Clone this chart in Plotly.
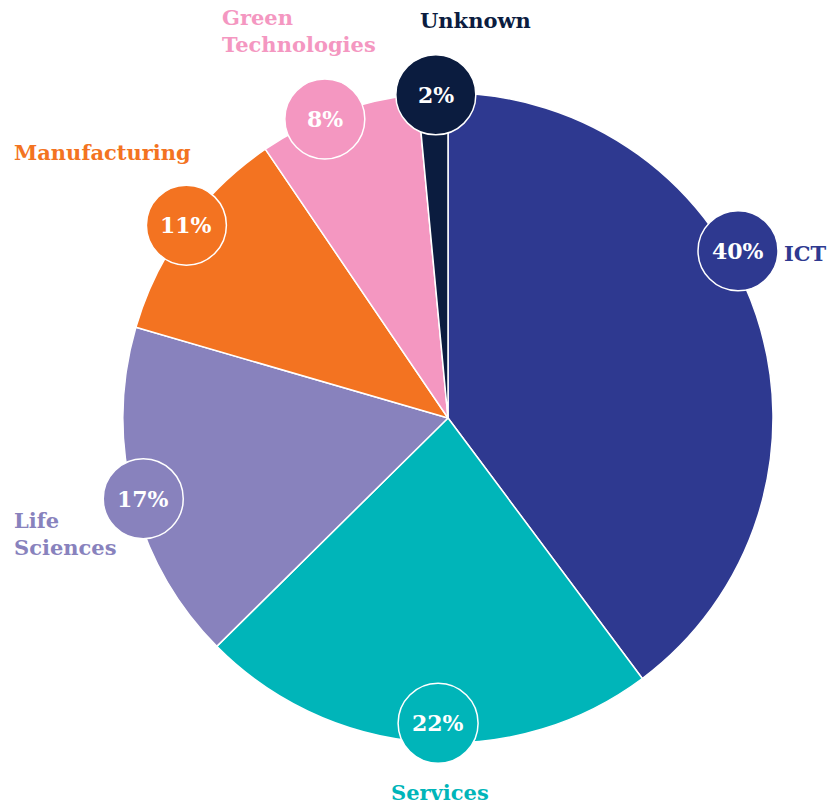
import math
import plotly.graph_objects as go

# ---- data ----
categories = ["ICT", "Services", "Life Sciences", "Manufacturing", "Green Technologies", "Unknown"]
display_names = ["ICT", "Services", "Life<br>Sciences", "Manufacturing", "Green<br>Technologies", "Unknown"]
values = [39.8, 22.8, 16.9, 11.0, 8.0, 1.5]          # slice sizes
pct_labels = ["40%", "22%", "17%", "11%", "8%", "2%"]  # printed labels

# ---- styles / layout ----
colors = ["#2E3990", "#00B5B9", "#8882BD", "#F37321", "#F497C1", "#0B1C3F"]
W, H = 840, 806
OFF = 8  # page body margin of the viewer
CX, CY, R = 448, 418, 325
BADGE_R = 40
FONT = "DejaVu Serif"
# position of the % badge within its slice (fraction of slice span, radius factor)
badge_frac = [0.419, 0.47, 0.49, 0.51, 0.41, 0.6]
badge_rad = [1.03, 0.94, 0.97, 1.0, 0.995, 0.995]
# category label anchors (pixels in the viewport): x, y, xanchor
label_pos = [(782, 253, "left"), (440, 792, "center"), (12, 534, "left"),
             (12, 152, "left"), (220, 31, "left"), (418, 20, "left")]


def px(x):
    return (x - OFF) / W


def py(y):
    return 1 - (y - OFF) / H


fig = go.Figure()
fig.add_trace(go.Pie(
    labels=categories, values=values, sort=False, direction="clockwise", rotation=0,
    marker=dict(colors=colors, line=dict(color="white", width=1.5)),
    textinfo="none", hoverinfo="label", showlegend=False,
    domain=dict(x=[px(CX - R), px(CX + R)], y=[py(CY + R), py(CY - R)]),
))

shapes, annotations = [], []
total = sum(values)
cum = 0
for i, v in enumerate(values):
    a0 = cum / total * 360
    a1 = (cum + v) / total * 360
    cum += v
    ang = math.radians(a0 + badge_frac[i] * (a1 - a0))
    r = R * badge_rad[i]
    bx = CX + r * math.sin(ang)
    by = CY - r * math.cos(ang)
    shapes.append(dict(type="circle", xref="paper", yref="paper", layer="above",
                       x0=px(bx - BADGE_R), x1=px(bx + BADGE_R),
                       y0=py(by + BADGE_R), y1=py(by - BADGE_R),
                       fillcolor=colors[i], line=dict(color="white", width=1.5)))
    annotations.append(dict(x=px(bx), y=py(by), xref="paper", yref="paper",
                            text=pct_labels[i], showarrow=False,
                            xanchor="center", yanchor="middle",
                            font=dict(family=FONT, size=22, color="white", weight="bold")))
    lx, ly, xa = label_pos[i]
    annotations.append(dict(x=px(lx), y=py(ly), xref="paper", yref="paper",
                            text=display_names[i], showarrow=False, align="left",
                            xanchor=xa, yanchor="middle",
                            font=dict(family=FONT, size=21, color=colors[i], weight="bold")))

fig.update_layout(
    width=W, height=H, margin=dict(l=0, r=0, t=0, b=0),
    paper_bgcolor="white", plot_bgcolor="white",
    shapes=shapes, annotations=annotations,
)
fig.write_html("out.html")
